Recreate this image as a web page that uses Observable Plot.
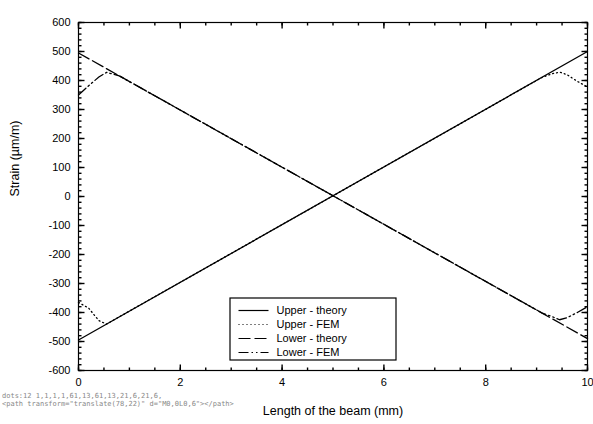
<!DOCTYPE html>
<html><head><meta charset="utf-8">
<script src="https://cdn.jsdelivr.net/npm/d3@7"></script>
<script src="https://cdn.jsdelivr.net/npm/@observablehq/plot@0.6"></script>
<style>
body{margin:0;background:#fff;}
#wrap{position:relative;width:593px;height:424px;}
#dbg{position:absolute;left:2px;top:392px;font:7px monospace;white-space:pre;color:#888;width:240px;overflow:hidden;}
</style>
</head><body><div id="wrap"></div><div id="dbg"></div>
<script>
// ---- data ----
const theoryX = [0, 10];
const upperTheory = [-495, 500];
const lowerTheory = [495, -490];
const upperFemX = [0, 0.2, 0.4, 0.55, 0.8, 9.1, 9.3, 9.45, 9.6, 9.8, 10];
const upperFem = [-365, -385, -428, -440, -415, 410, 423, 429, 420, 397, 378];
const lowerFemX = [0, 0.2, 0.4, 0.55, 0.8, 9.1, 9.3, 9.45, 9.6, 9.8, 10];
const lowerFem = [350, 382, 412, 428, 416, -401, -414, -425, -418, -400, -380];
const yTicks = [-600, -500, -400, -300, -200, -100, 0, 100, 200, 300, 400, 500, 600];
const xTicks = [0, 2, 4, 6, 8, 10];
const yMinor = d3.range(-600, 601, 20);
const xMinor = d3.range(0, 10.001, 0.5);
const seriesNames = ["Upper - theory", "Upper - FEM", "Lower - theory", "Lower - FEM"];
const xTitle = "Length of the beam (mm)";
const yTitle = "Strain (\u00b5m/m)";

const dashes = [null, "1,3", "12,4", "10,3,1.5,3,1.5,3"];

const toRows = (xs, ys) => xs.map((x, i) => ({x, y: ys[i]}));
const series = [
  toRows(theoryX, upperTheory),
  toRows(upperFemX, upperFem),
  toRows(theoryX, lowerTheory),
  toRows(lowerFemX, lowerFem)
];

const font = "'Liberation Sans', Arial, Helvetica, sans-serif";
const W = 593, H = 424, mL = 78, mR = 6, mT = 22, mB = 54;
const xDom = [0, 10], yDom = [-600, 600];

const segSym = (dx, dy) => ({draw(ctx) { ctx.moveTo(0, 0); ctx.lineTo(dx, dy); }});
const tickMarks = (side, values, len) => {
  const sym = side === "left" ? segSym(len, 0) : side === "right" ? segSym(-len, 0)
            : side === "bottom" ? segSym(0, -len) : segSym(0, len);
  const o = {frameAnchor: side, symbol: sym, stroke: "#000", fill: "none", strokeWidth: 1.4};
  if (side === "left" || side === "right") o.y = d => d; else o.x = d => d;
  return Plot.dot(values, o);
};

const box = {x0: 229.5, y0: 297.5, x1: 395.5, y1: 359.5};
const legendMarks = [
  Plot.frame({insetLeft: box.x0 - mL, insetTop: box.y0 - mT, insetRight: (W - mR) - box.x1, insetBottom: (H - mB) - box.y1,
              fill: "#fff", stroke: "#000", strokeWidth: 1.2}),
  ...seriesNames.flatMap((name, i) => {
    const dy = 310 - mT + i * 14;
    return [
      Plot.dot([name], {frameAnchor: "top-left", dx: 238 - mL, dy, symbol: segSym(30, 0), stroke: "#000", fill: "none",
                        strokeWidth: 1.2, strokeDasharray: dashes[i]}),
      Plot.text([name], {frameAnchor: "top-left", dx: 276 - mL, dy, textAnchor: "start", lineAnchor: "middle", fontSize: 11})
    ];
  })
];

let dbg = "";
const plot = Plot.plot({
  width: W, height: H,
  marginLeft: mL, marginRight: mR, marginTop: mT, marginBottom: mB,
  x: {domain: xDom},
  y: {domain: yDom},
  style: {fontFamily: font, fontSize: "11px", color: "#000", background: "#fff"},
  marks: [
    Plot.axisY(yTicks, {anchor: "left", tickSize: 0, tickPadding: 8, tickFormat: d => String(d), label: null}),
    Plot.axisX(xTicks, {anchor: "bottom", tickSize: 0, tickPadding: 8, tickFormat: d => String(d), label: null}),
    Plot.frame({stroke: "#000", strokeWidth: 1.2}),
    ...series.map((rows, i) => Plot.line(rows, {x: "x", y: "y", stroke: "#000", strokeWidth: 1.3, strokeDasharray: dashes[i]})),
    ...legendMarks,
    Plot.text([xTitle], {frameAnchor: "bottom", dy: 44, fontSize: 12.5}),
    Plot.text([yTitle], {frameAnchor: "left", dx: -64, rotate: -90, fontSize: 12.5}),
    tickMarks("left", yMinor, 3),
    tickMarks("left", yTicks, 6),
    tickMarks("right", yMinor, 3),
    tickMarks("right", yTicks, 6),
    tickMarks("bottom", xMinor, 3),
    tickMarks("bottom", xTicks, 6),
    tickMarks("top", xMinor, 3),
    tickMarks("top", xTicks, 6)
  ]
});

document.getElementById("wrap").appendChild(plot);
const gs = plot.querySelectorAll("g[aria-label='dot']");
dbg += "dots:" + gs.length + " ";
gs.forEach(g => { dbg += g.children.length + ","; });
const last = gs[gs.length - 1];
if (last && last.firstElementChild) dbg += "\n" + last.firstElementChild.outerHTML.slice(0, 70);
document.getElementById("dbg").textContent = dbg;
</script>
</body></html>
